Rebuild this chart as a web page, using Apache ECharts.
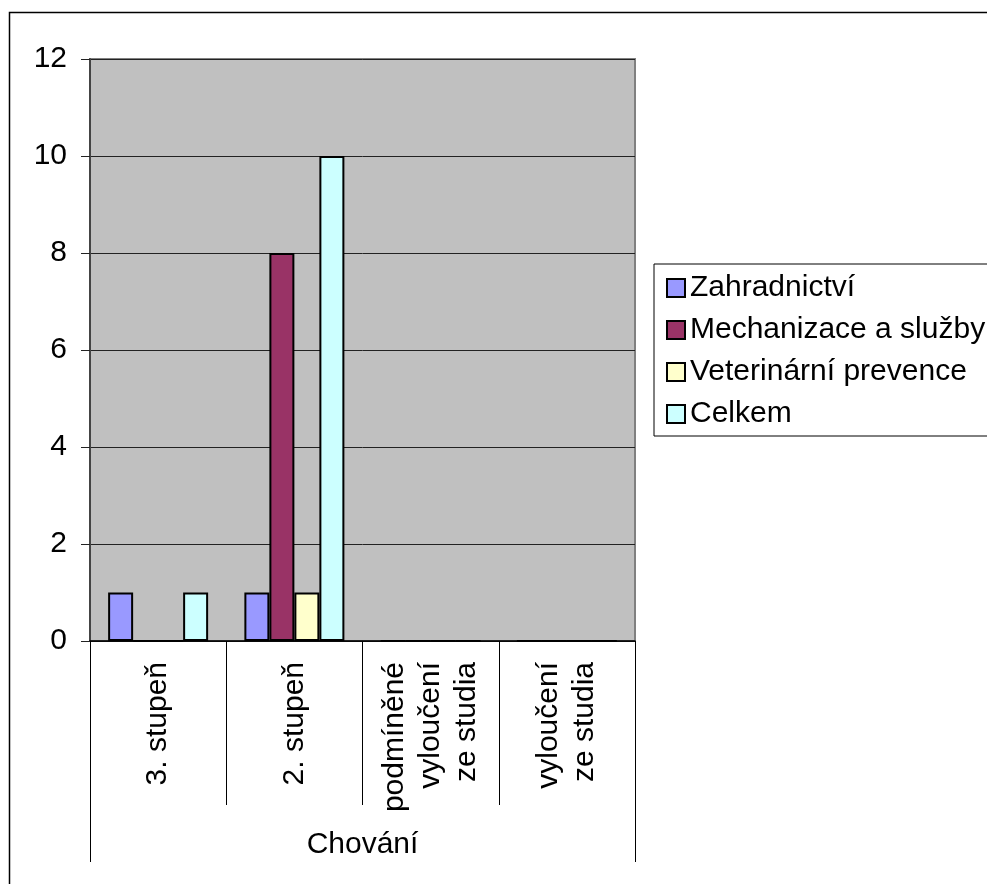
<!DOCTYPE html>
<html>
<head>
<meta charset="utf-8">
<script src="https://cdn.jsdelivr.net/npm/echarts@6/dist/echarts.min.js"></script>
<style>
html,body{margin:0;padding:0;background:#fff;}
#chart{width:987px;height:884px;}
</style>
</head>
<body>
<div id="chart"></div>
<script>
const categories = ['3. stupeň', '2. stupeň', 'podmíněné\nvyloučení\nze studia', 'vyloučení\nze studia'];
const groupLabels = ['Chování'];
const seriesNames = ['Zahradnictví', 'Mechanizace a služby', 'Veterinární prevence', 'Celkem'];
const zahradnictvi = [1, 1, 0, 0];
const mechanizace = [0, 8, 0, 0];
const veterinarni = [0, 1, 0, 0];
const celkem = [1, 10, 0, 0];
const yTicks = { min: 0, max: 12, interval: 2 };

const colors = ['#9999FF', '#993366', '#FFFFCC', '#CCFFFF'];
const values = [zahradnictvi, mechanizace, veterinarni, celkem];
const FONT = "'Liberation Sans', Arial, sans-serif";
const FS = 30;

const chart = echarts.init(document.getElementById('chart'), null, { renderer: 'canvas' });
chart.setOption({
  animation: false,
  backgroundColor: '#fff',
  textStyle: { fontFamily: FONT },
  graphic: [{
    type: 'rect',
    z: -10,
    silent: true,
    shape: { x: 9.5, y: 12.5, width: 1200, height: 1200 },
    style: { fill: 'none', stroke: '#000', lineWidth: 1.5 }
  }],
  grid: {
    left: 90, top: 59, width: 545, height: 582,
    show: true, backgroundColor: '#C0C0C0',
    borderColor: '#808080', borderWidth: 2,
    containLabel: false
  },
  legend: {
    orient: 'vertical',
    left: 654, top: 264,
    padding: [9, 30, 7, 12],
    itemGap: 12,
    itemWidth: 18, itemHeight: 18,
    icon: 'rect',
    borderColor: '#000', borderWidth: 1,
    backgroundColor: '#fff',
    itemStyle: { borderColor: '#000', borderWidth: 2 },
    textStyle: { fontSize: FS, color: '#000', fontFamily: FONT, lineHeight: 30 },
    data: seriesNames
  },
  xAxis: [{
    type: 'category',
    data: categories,
    position: 'bottom',
    boundaryGap: true,
    axisLine: { show: true, lineStyle: { color: '#000', width: 1.5 } },
    axisTick: { show: true, length: 164, interval: 0, lineStyle: { color: '#000', width: 1 } },
    axisLabel: {
      interval: 0, rotate: 90, margin: 21,
      fontSize: FS, color: '#000', fontFamily: FONT, lineHeight: 36
    },
    splitLine: { show: false }
  }, {
    type: 'category',
    data: groupLabels,
    position: 'bottom',
    boundaryGap: true,
    axisLine: { show: false },
    axisTick: { show: true, length: 221, interval: 0, lineStyle: { color: '#000', width: 1 } },
    axisLabel: { interval: 0, margin: 189, fontSize: FS, color: '#000', fontFamily: FONT },
    splitLine: { show: false }
  }],
  yAxis: {
    type: 'value',
    min: yTicks.min, max: yTicks.max, interval: yTicks.interval,
    axisLine: { show: true, lineStyle: { color: '#444', width: 2 } },
    axisTick: { show: true, length: 9, lineStyle: { color: '#222', width: 1 } },
    axisLabel: { margin: 23, fontSize: FS, color: '#000', fontFamily: FONT },
    splitLine: { show: true, lineStyle: { color: '#222', width: 1 } }
  },
  series: seriesNames.map((name, i) => ({
    name: name,
    type: 'bar',
    xAxisIndex: 0,
    data: values[i],
    barWidth: 25,
    barGap: '0%',
    itemStyle: { color: colors[i], borderColor: '#000', borderWidth: 2 }
  }))
});
</script>
</body>
</html>
